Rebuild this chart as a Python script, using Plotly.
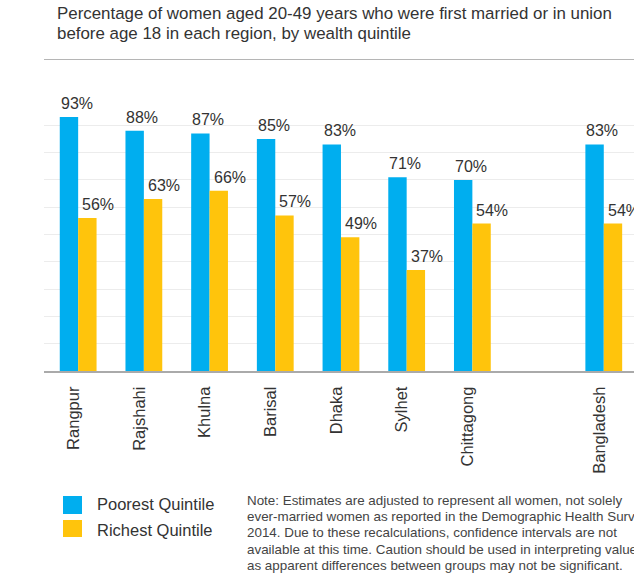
import plotly.graph_objects as go

categories = ["Rangpur", "Rajshahi", "Khulna", "Barisal", "Dhaka", "Sylhet", "Chittagong", "Bangladesh"]
poorest = [93, 88, 87, 85, 83, 71, 70, 83]
richest = [56, 63, 66, 57, 49, 37, 54, 54]
series_names = ["Poorest Quintile", "Richest Quintile"]
title_lines = ["Percentage of women aged 20-49 years who were first married or in union",
               "before age 18 in each region, by wealth quintile"]
note_lines = [
    "Note: Estimates are adjusted to represent all women, not solely",
    "ever-married women as reported in the Demographic Health Survey",
    "2014. Due to these recalculations, confidence intervals are not",
    "available at this time. Caution should be used in interpreting values",
    "as apparent differences between groups may not be significant.",
]

BLUE = "#00AEEF"
YELLOW = "#FFC40C"
FONT = "Liberation Sans, Arial, sans-serif"
W, H = 634, 573
L, R, T, B = 44, 0, 98, 202
pw, ph = W - L - R, H - T - B

def px(x):
    return (x - L) / pw

def py(y):
    return (H - B - y) / ph

# regions then a gap before the national total
pos = list(range(len(categories) - 1)) + [len(categories)]

fig = go.Figure()
fig.add_trace(go.Bar(x=pos, y=poorest, name=series_names[0], marker_color=BLUE,
                     marker_line_width=0, hoverinfo="skip"))
fig.add_trace(go.Bar(x=pos, y=richest, name=series_names[1], marker_color=YELLOW,
                     marker_line_width=0, hoverinfo="skip"))

bw = 0.28
annotations = []
for p, a, b in zip(pos, poorest, richest):
    annotations.append(dict(x=p - bw, y=a, text=f"{a}%", xanchor="left", yanchor="bottom",
                            showarrow=False, xshift=-1, yshift=3,
                            font=dict(family=FONT, size=16, color="#333")))
    annotations.append(dict(x=p, y=b, text=f"{b}%", xanchor="left", yanchor="bottom",
                            showarrow=False, xshift=2, yshift=3,
                            font=dict(family=FONT, size=16, color="#333")))

# title lines
for i, line in enumerate(title_lines):
    annotations.append(dict(xref="paper", yref="paper", x=px(55), y=py(13.5 + 20 * i),
                            xanchor="left", yanchor="middle", showarrow=False, text=line,
                            font=dict(family=FONT, size=16.9, color="#333")))
# legend text
for i, name in enumerate(series_names):
    annotations.append(dict(xref="paper", yref="paper", x=px(95), y=py(503.5 + 26 * i),
                            xanchor="left", yanchor="middle", showarrow=False, text=name,
                            font=dict(family=FONT, size=16.5, color="#333")))
# note lines
for i, line in enumerate(note_lines):
    annotations.append(dict(xref="paper", yref="paper", x=px(245), y=py(500 + 16.4 * i),
                            xanchor="left", yanchor="middle", showarrow=False, text=line,
                            font=dict(family=FONT, size=13.4, color="#444")))

shapes = [
    dict(type="line", xref="paper", yref="paper", x0=px(44), x1=px(634), y0=py(59.5), y1=py(59.5),
         line=dict(color="#b5b5b5", width=1.2)),
    dict(type="rect", xref="paper", yref="paper", x0=px(63), x1=px(82), y0=py(496), y1=py(514),
         fillcolor=BLUE, line_width=0),
    dict(type="rect", xref="paper", yref="paper", x0=px(63), x1=px(82), y0=py(520), y1=py(537),
         fillcolor=YELLOW, line_width=0),
]

fig.update_layout(
    width=W, height=H,
    margin=dict(l=L, r=R, t=T, b=B, pad=0),
    paper_bgcolor="white", plot_bgcolor="white",
    barmode="group", bargap=0.44, bargroupgap=0,
    showlegend=False,
    annotations=annotations, shapes=shapes,
    font=dict(family=FONT, color="#333"),
    xaxis=dict(range=[-0.52, 8.46], tickmode="array",
               tickvals=[p - 0.07 for p in pos], ticktext=categories,
               tickangle=-90, tickfont=dict(family=FONT, size=16.5, color="#333"),
               ticks="outside", ticklen=7, tickcolor="rgba(0,0,0,0)",
               showgrid=False, zeroline=False, fixedrange=True,
               showline=True, linecolor="#aaa", linewidth=2),
    yaxis=dict(range=[0, 100], dtick=10, showticklabels=False, showgrid=True,
               gridcolor="#ececec", gridwidth=1, zeroline=False, showline=False,
               fixedrange=True),
)

fig.write_html(
    "out.html",
    config={"displayModeBar": False},
    post_script="document.body.style.margin='0';document.body.style.overflow='hidden';",
)
